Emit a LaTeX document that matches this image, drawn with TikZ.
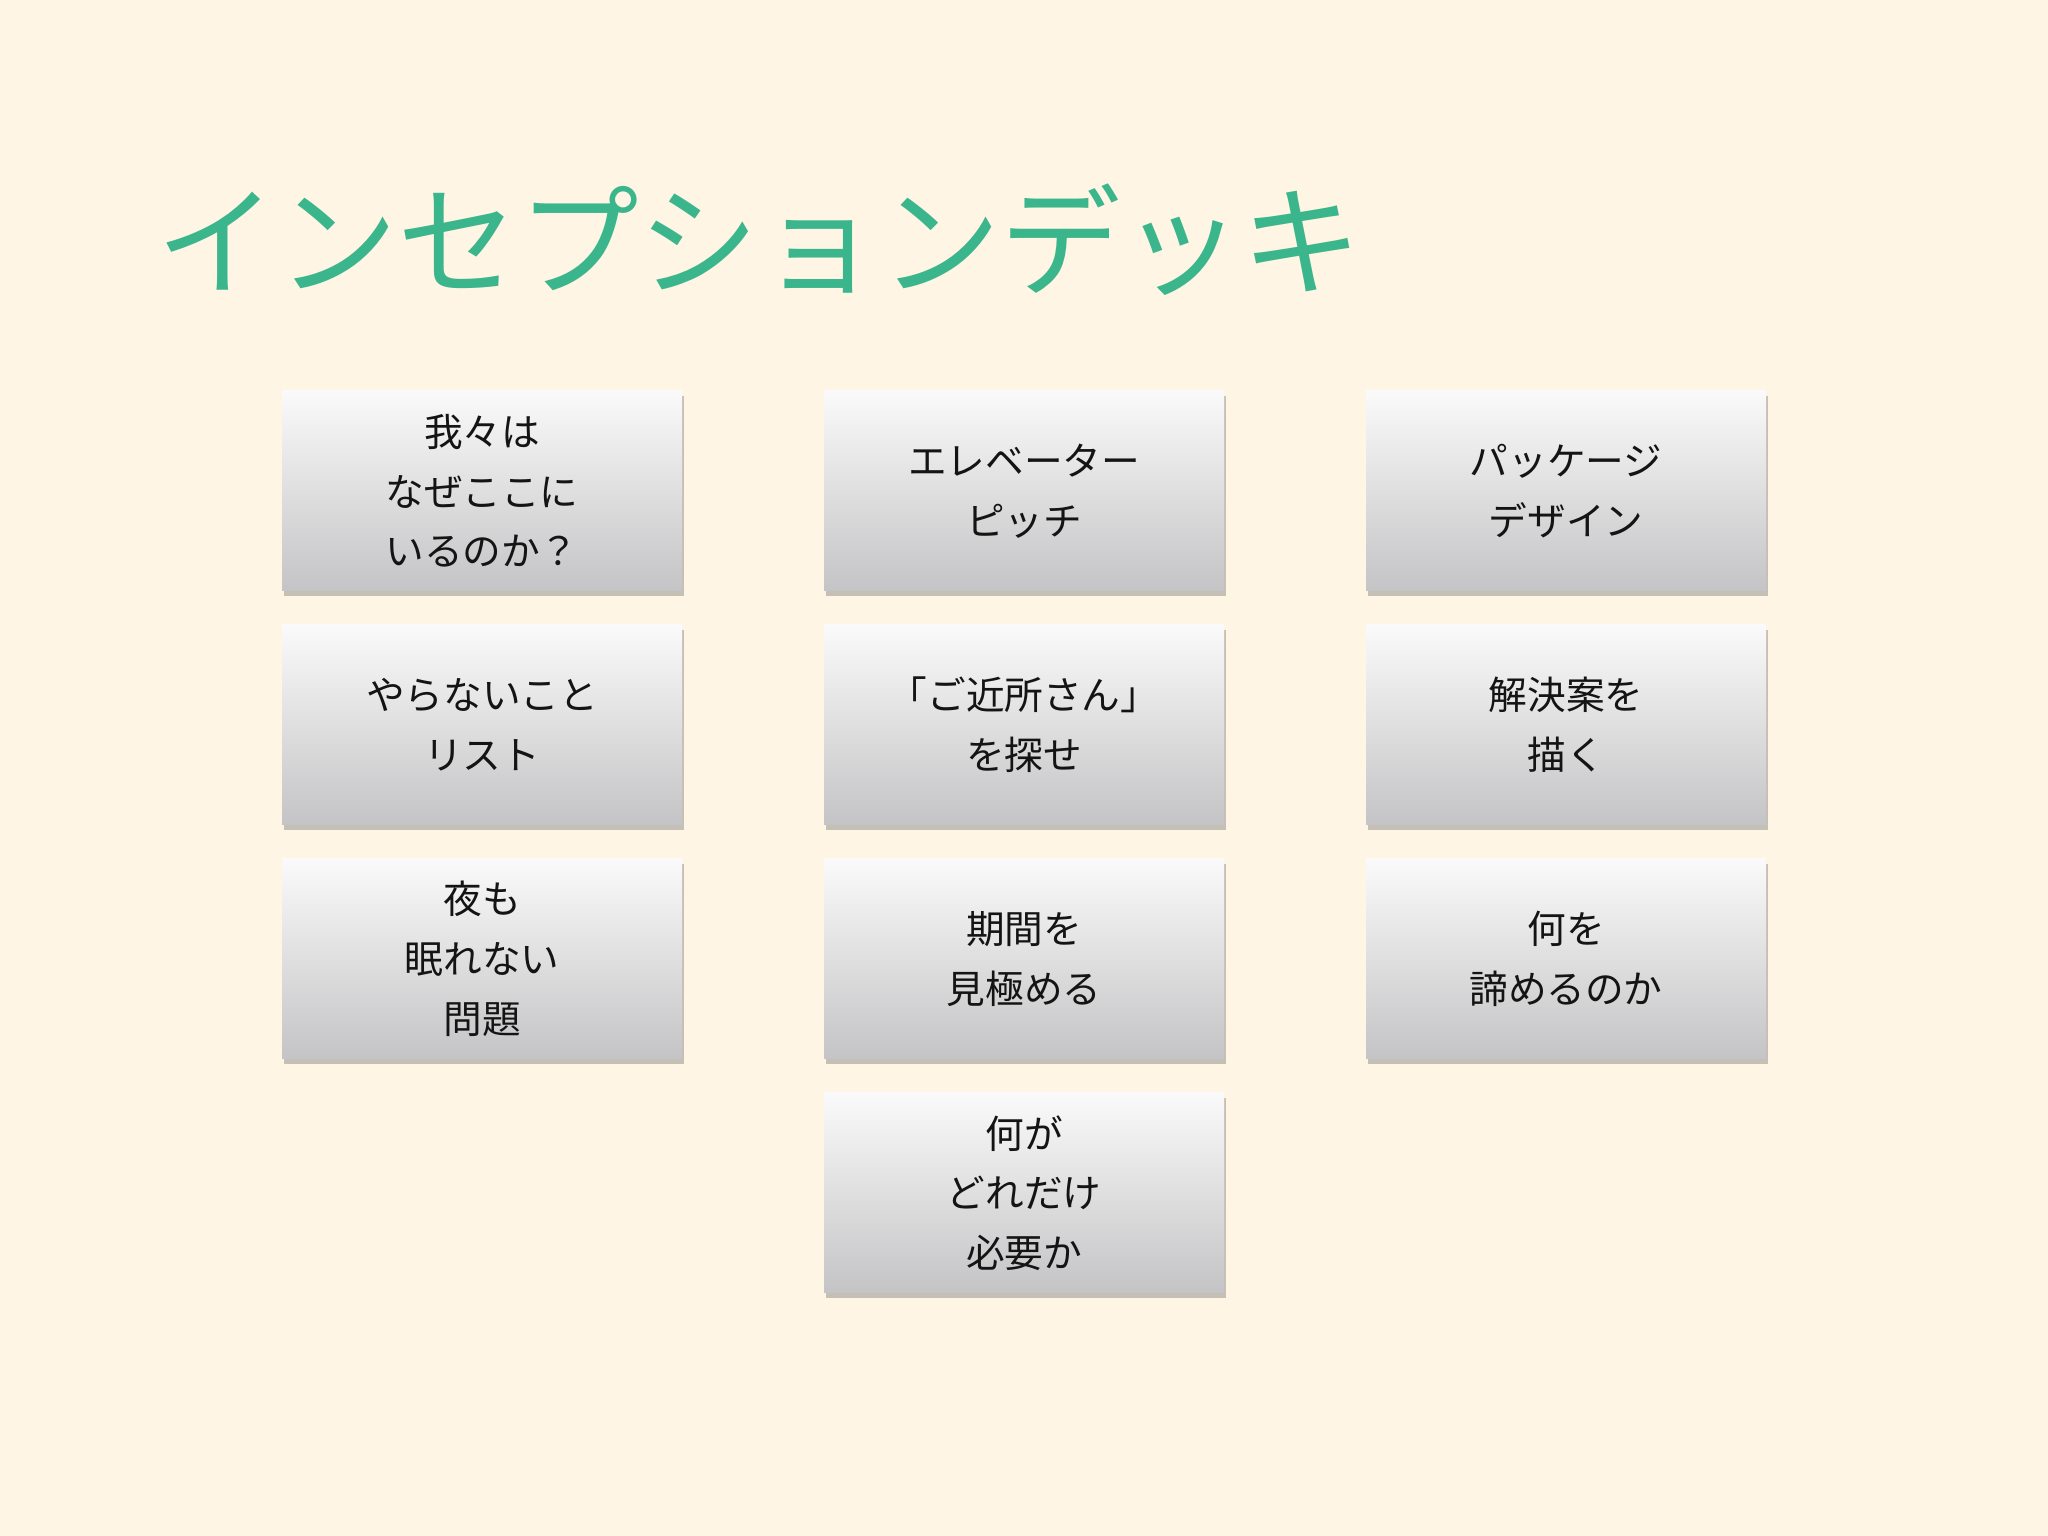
\documentclass[tikz,border=0pt]{standalone}
\usepackage{fontspec}
\setmainfont{Noto Sans CJK JP}
\usetikzlibrary{shadows}
\definecolor{bgcream}{HTML}{FEF5E4}
\definecolor{decktitle}{HTML}{3BB58B}
\definecolor{cardtop}{HTML}{FAFAFA}
\definecolor{cardbot}{HTML}{C4C4C6}

\begin{document}
\begin{tikzpicture}[
  card/.style={rectangle,minimum width=4.0cm,minimum height=2.0cm,
               top color=cardtop,bottom color=cardbot,
               drop shadow={opacity=0.45,shadow xshift=0.5pt,shadow yshift=-1.5pt},
               font=\fontsize{11pt}{17pt}\selectfont,
               align=center,text=black!92}
]

% Background page
\fill[bgcream] (0,0) rectangle (20.48,15.36);

% Title
\node[anchor=west,inner sep=0pt,text=decktitle,
      font=\fontsize{34.3pt}{40pt}\selectfont] (title) at (1.56,12.96)
      {インセプションデッキ};

% Column 1
\node[card] (why)     at (4.82,10.45) {我々は\\なぜここに\\いるのか？};
\node[card] (notlist) at (4.82,8.11)  {やらないこと\\リスト};
\node[card] (night)   at (4.82,5.77)  {夜も\\眠れない\\問題};

% Column 2
\node[card] (pitch)   at (10.24,10.45) {エレベーター\\ピッチ};
\node[card] (nbrs)    at (10.24,8.11)  {「ご近所さん」\\を探せ};
\node[card] (period)  at (10.24,5.77)  {期間を\\見極める};
\node[card] (cost)    at (10.24,3.43)  {何が\\どれだけ\\必要か};

% Column 3
\node[card] (pkg)     at (15.66,10.45) {パッケージ\\デザイン};
\node[card] (sol)     at (15.66,8.11)  {解決案を\\描く};
\node[card] (giveup)  at (15.66,5.77)  {何を\\諦めるのか};

\end{tikzpicture}
\end{document}
